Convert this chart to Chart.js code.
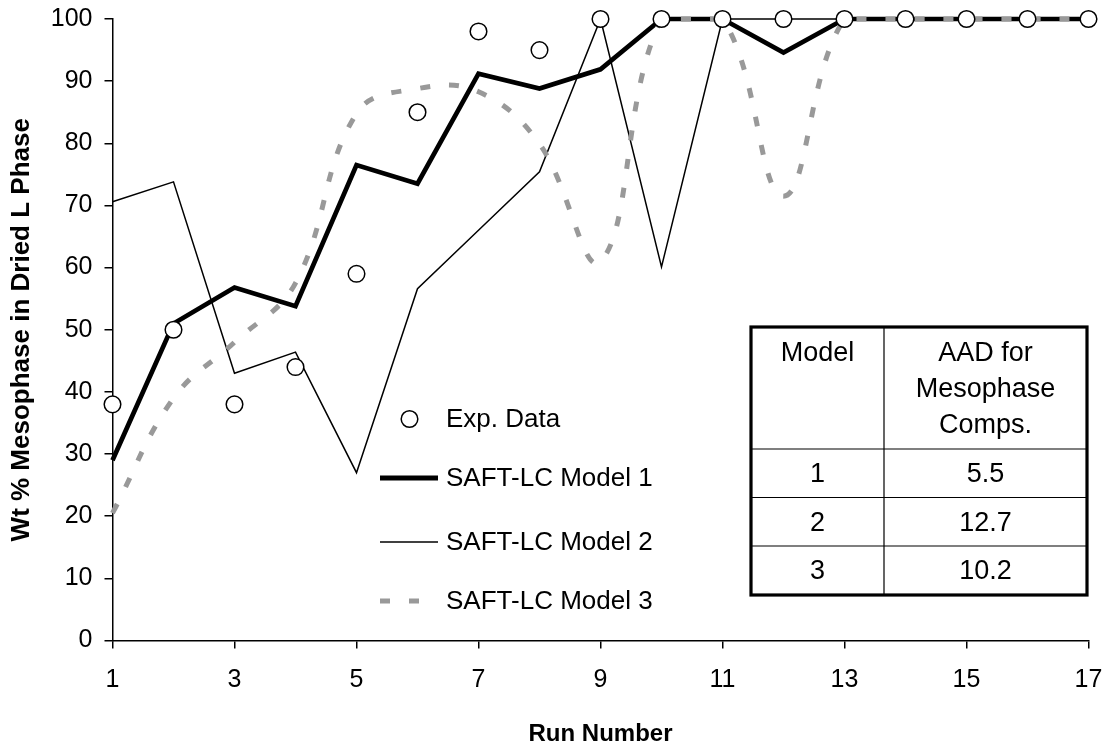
<!DOCTYPE html>
<html>
<head>
<meta charset="utf-8">
<title>Wt % Mesophase in Dried L Phase</title>
<script src="https://cdn.jsdelivr.net/npm/chart.js@4/dist/chart.umd.min.js"></script>
<style>
  html, body { margin: 0; padding: 0; background: #fff; }
  #wrap { position: relative; width: 1107px; height: 746px; }
  canvas { display: block; }
</style>
</head>
<body>
<div id="wrap"><canvas id="chart" width="1107" height="746"></canvas></div>
<script>
// Run numbers and measured / modelled mesophase fractions (wt %)
const runs = [1, 2, 3, 4, 5, 6, 7, 8, 9, 10, 11, 12, 13, 14, 15, 16, 17];
const expData = [38, 50, 38, 44, 59, 85, 98, 95, 100, 100, 100, 100, 100, 100, 100, 100, 100];
const model1 = [29, 51, 56.8, 53.8, 76.5, 73.5, 91.2, 88.8, 91.9, 100, 100, 94.6, 100, 100, 100, 100, 100];
const model2 = [70.6, 73.8, 43, 46.4, 27, 56.6, 66, 75.4, 100, 60.1, 100, 100, 100, 100, 100, 100, 100];
const model3 = [20.5, 39, 48, 57.5, 84.8, 88.8, 88.3, 79.9, 61, 100, 100, 71.5, 100, 100, 100, 100, 100];

const xTickValues = [1, 3, 5, 7, 9, 11, 13, 15, 17];
const yTickValues = [0, 10, 20, 30, 40, 50, 60, 70, 80, 90, 100];

const seriesNames = ['Exp. Data', 'SAFT-LC Model 1', 'SAFT-LC Model 2', 'SAFT-LC Model 3'];
const xTitle = 'Run Number';
const yTitle = 'Wt % Mesophase in Dried L Phase';

// AAD summary table
const tableHead = ['Model', ['AAD for', 'Mesophase', 'Comps.']];
const tableModels = ['1', '2', '3'];
const tableAAD = ['5.5', '12.7', '10.2'];

const FONT = "'Liberation Sans', Arial, Helvetica, sans-serif";
const GREY = '#999999';
const M3_DASH = [10, 19];

const toPoints = (ys) => runs.map((r, i) => ({ x: r, y: ys[i] }));

// Legend drawn inside the plot, to the left of the table
const legendPlugin = {
  id: 'inlineLegend',
  afterDraw(chart) {
    const ctx = chart.ctx;
    const x0 = 380, x1 = 438, tx = 446;
    const rows = [419, 478, 542, 601];
    ctx.save();
    ctx.font = '26px ' + FONT;
    ctx.fillStyle = '#000';
    ctx.textBaseline = 'middle';
    ctx.textAlign = 'left';
    // marker
    ctx.beginPath();
    ctx.arc(409.5, rows[0], 8.3, 0, Math.PI * 2);
    ctx.fillStyle = '#fff';
    ctx.fill();
    ctx.lineWidth = 1.5;
    ctx.strokeStyle = '#000';
    ctx.stroke();
    // model 1
    ctx.beginPath();
    ctx.lineWidth = 5;
    ctx.moveTo(x0, rows[1]); ctx.lineTo(x1, rows[1]);
    ctx.stroke();
    // model 2
    ctx.beginPath();
    ctx.lineWidth = 1.5;
    ctx.moveTo(x0, rows[2]); ctx.lineTo(x1, rows[2]);
    ctx.stroke();
    // model 3
    ctx.beginPath();
    ctx.lineWidth = 5;
    ctx.strokeStyle = GREY;
    ctx.setLineDash(M3_DASH);
    ctx.moveTo(x0, rows[3]); ctx.lineTo(x1, rows[3]);
    ctx.stroke();
    ctx.setLineDash([]);
    ctx.fillStyle = '#000';
    seriesNames.forEach((name, i) => ctx.fillText(name, tx, rows[i] + 1));
    ctx.restore();
  }
};

// AAD table in the lower right of the plot
const tablePlugin = {
  id: 'aadTable',
  afterDraw(chart) {
    const ctx = chart.ctx;
    const L = 751, R = 1087, T = 327, B = 595, C = 884;
    const rowLines = [449, 497.5, 546];
    ctx.save();
    ctx.fillStyle = '#fff';
    ctx.fillRect(L, T, R - L, B - T);
    ctx.strokeStyle = '#000';
    ctx.lineWidth = 1.2;
    ctx.beginPath();
    ctx.moveTo(C, T); ctx.lineTo(C, B);
    rowLines.forEach(y => { ctx.moveTo(L, y); ctx.lineTo(R, y); });
    ctx.stroke();
    ctx.lineWidth = 3.2;
    ctx.strokeRect(L, T, R - L, B - T);

    ctx.font = '27px ' + FONT;
    ctx.fillStyle = '#000';
    ctx.textAlign = 'center';
    ctx.textBaseline = 'middle';
    const c1 = (L + C) / 2, c2 = (C + R) / 2;
    ctx.fillText(tableHead[0], c1, 354);
    tableHead[1].forEach((line, i) => ctx.fillText(line, c2, 354 + i * 36));
    const bounds = [449, 497.5, 546, 595];
    tableModels.forEach((m, i) => {
      const cy = (bounds[i] + bounds[i + 1]) / 2 + 1.5;
      ctx.fillText(m, c1, cy);
      ctx.fillText(tableAAD[i], c2, cy);
    });
    ctx.restore();
  }
};

const axisGrid = {
  display: true,
  drawOnChartArea: false,
  drawTicks: true,
  tickLength: 8,
  color: '#000',
  lineWidth: 1.5
};

new Chart(document.getElementById('chart'), {
  type: 'line',
  data: {
    datasets: [
      {
        label: seriesNames[0],
        data: toPoints(expData),
        showLine: false,
        pointRadius: 8.3,
        pointBorderWidth: 1.5,
        pointBackgroundColor: '#fff',
        pointBorderColor: '#000',
        borderColor: '#000',
        order: 0,
        clip: false
      },
      {
        label: seriesNames[3],
        data: toPoints(model3),
        borderColor: GREY,
        borderWidth: 5,
        borderDash: M3_DASH,
        borderCapStyle: 'butt',
        tension: 0.4,
        pointRadius: 0,
        order: 1,
        clip: false
      },
      {
        label: seriesNames[2],
        data: toPoints(model2),
        borderColor: '#000',
        borderWidth: 1.5,
        tension: 0,
        pointRadius: 0,
        order: 2,
        clip: false
      },
      {
        label: seriesNames[1],
        data: toPoints(model1),
        borderColor: '#000',
        borderWidth: 4.7,
        borderJoinStyle: 'miter',
        tension: 0,
        pointRadius: 0,
        order: 3,
        clip: false
      }
    ]
  },
  options: {
    responsive: false,
    animation: false,
    devicePixelRatio: 1,
    layout: { padding: { left: 0, top: 19, right: 18.5, bottom: 0 } },
    plugins: {
      legend: { display: false },
      tooltip: { enabled: false }
    },
    scales: {
      x: {
        type: 'linear',
        min: 1,
        max: 17,
        grid: axisGrid,
        border: { display: true, color: '#000', width: 1.5 },
        afterBuildTicks: (s) => { s.ticks = xTickValues.map(v => ({ value: v })); },
        afterFit: (s) => { s.height = 105.5; s.paddingLeft = 0; s.paddingRight = 0; },
        ticks: {
          color: '#000',
          padding: 17,
          maxRotation: 0,
          autoSkip: false,
          font: { family: FONT, size: 25 }
        },
        title: {
          display: true,
          text: xTitle,
          color: '#000',
          font: { family: FONT, size: 24, weight: 'bold', lineHeight: 1 },
          padding: { top: 0, bottom: 0 }
        }
      },
      y: {
        type: 'linear',
        min: 0,
        max: 100,
        grid: axisGrid,
        border: { display: true, color: '#000', width: 1.5 },
        afterBuildTicks: (s) => { s.ticks = yTickValues.map(v => ({ value: v })); },
        afterFit: (s) => { s.width = 112.5; s.paddingTop = 0; s.paddingBottom = 0; },
        ticks: {
          color: '#000',
          padding: 12,
          font: { family: FONT, size: 25 }
        },
        title: {
          display: true,
          text: yTitle,
          color: '#000',
          font: { family: FONT, size: 26, weight: 'bold', lineHeight: 1 },
          padding: { top: 9, bottom: 0 }
        }
      }
    }
  },
  plugins: [legendPlugin, tablePlugin]
});
</script>
</body>
</html>
